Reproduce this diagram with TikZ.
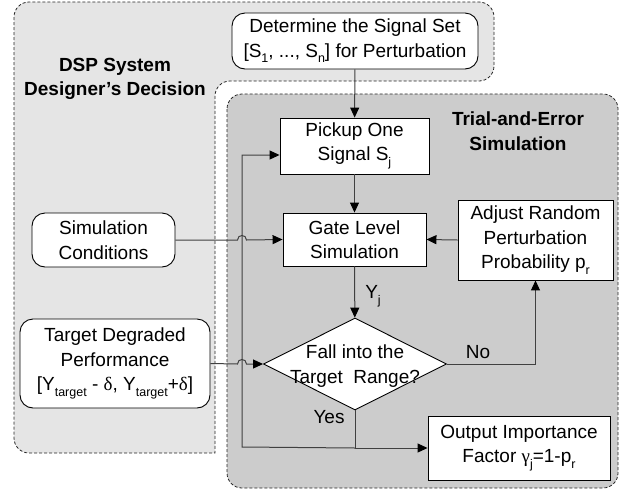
\documentclass[tikz,border=0pt]{standalone}
\usepackage{fontspec}
\setmainfont{Liberation Sans}
\newfontfamily\grk{Liberation Serif}
\usetikzlibrary{arrows.meta,shapes.geometric}
\newcommand\sbx[1]{\raisebox{-0.3em}{\fontsize{12.5}{12.5}\selectfont #1}}
\definecolor{lightbg}{gray}{0.9}
\definecolor{darkbg}{gray}{0.8}
\definecolor{linec}{gray}{0.25}
\begin{document}
\begin{tikzpicture}[x=1pt,y=-1pt,
  every node/.style={font=\fontsize{19}{24.5}\selectfont, align=center, inner sep=0pt},
  region/.style={draw=black!85, line width=0.8pt, dash pattern=on 3pt off 2pt},
  boxn/.style={draw=black, line width=0.9pt, fill=white},
  rbox/.style={boxn, rounded corners=13pt},
  conn/.style={draw=linec, line width=1pt},
  arr/.style={conn, -{Triangle[length=10pt,width=9pt,color=black]}},
  ttl/.style={font=\bfseries\fontsize{19}{24.5}\selectfont}
]
\useasboundingbox (0,0) rectangle (638,491);
% regions
\path[region, fill=lightbg] (14,240) [rounded corners=15pt] -- (14,2) -- (494,2) -- (494,81) -- (215,81) [sharp corners] -- (215,453) [rounded corners=15pt] -- (14,453) -- cycle;
\path[region, fill=darkbg, rounded corners=15pt] (227,94) rectangle (618,488);
\node[ttl] (dsp) at (115,79) {DSP System\\Designer{\char"0027}s Decision};
\node[ttl] (tes) at (518,131) {Trial-and-Error\\Simulation};
% nodes
\node[rbox, minimum width=246pt, minimum height=56pt] (det) at (355,41) {Determine the Signal Set\\{[}S\sbx{1}, ..., S\sbx{n}] for Perturbation};
\node[boxn, minimum width=149pt, minimum height=56pt] (pick) at (354.5,146) {Pickup One\\Signal S\sbx{j}};
\node[boxn, minimum width=143pt, minimum height=53pt] (gate) at (354.5,239.5) {Gate Level\\Simulation};
\node[boxn, minimum width=155pt, minimum height=80pt] (adj) at (535.5,240) {Adjust Random\\Perturbation\\Probability p\sbx{r}};
\node[diamond, boxn, minimum width=183pt, minimum height=92pt] (dia) at (355,364) {};
\node (diat) at (355,366) {Fall into the\\Target~ Range?};
\node[boxn, minimum width=182pt, minimum height=64pt] (out) at (519,448) {Output Importance\\Factor {\grk γ}\sbx{j}=1-p\sbx{r}};
\node[rbox, minimum width=143pt, minimum height=54pt] (sim) at (103.5,240) {Simulation\\Conditions};
\node[rbox, minimum width=190pt, minimum height=89pt] (tgt) at (115,363.5) {Target Degraded\\Performance\\{[}Y\sbx{target} - {\grk δ}, Y\sbx{target}+{\grk δ}]};
% labels
\node (ylab) at (373,296) {Y\sbx{j}};
\node (nolab) at (478,352) {No};
\node (yeslab) at (329,417) {Yes};
% connectors
\coordinate (lp) at (242,447);
\draw[arr] (det) -- (pick);
\draw[arr] (pick) -- (gate);
\draw[arr] (gate) -- (dia);
\draw[arr] (dia.east) -| (adj.south);
\draw[arr] (adj.west) -- (gate.east);
\draw[arr] (dia.south) |- (out.west);
\draw[arr] (dia.south |- out.west) -- (lp) |- ([yshift=-9pt]pick.west);
\draw[arr] (sim.east) -- (237.5,240) .. controls (237.5,234) and (246.5,234) .. (246.5,240) -- (gate.west);
\draw[arr] (tgt.east) -- (237.5,364) .. controls (237.5,358) and (246.5,358) .. (246.5,364) -- (dia.west);
\end{tikzpicture}
\end{document}
